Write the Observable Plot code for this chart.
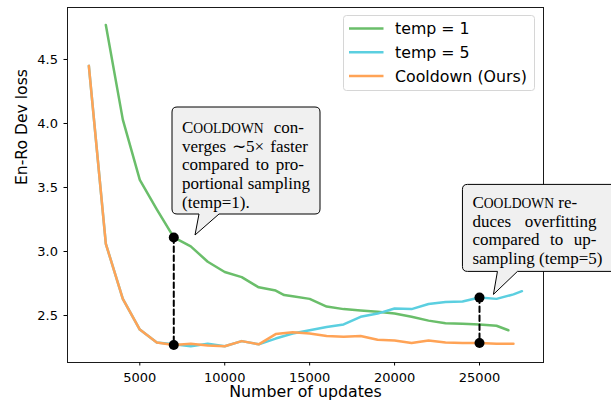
<!DOCTYPE html>
<html><head><meta charset="utf-8">
<script src="https://cdn.jsdelivr.net/npm/d3@7"></script>
<script src="https://cdn.jsdelivr.net/npm/@observablehq/plot@0.6"></script>
<style>body{margin:0;background:#fff}</style>
</head><body><div id="chart"></div><script>
// ---- data ----
const seriesNames = ["temp = 1", "temp = 5", "Cooldown (Ours)"];
const seriesColors = ["#6abe6a", "#5bcfe0", "#ffa356"];

const temp1X = [3000,4000,5000,6000,7000,8000,9000,10000,11000,12000,13000,13500,14000,15000,16000,17000,18000,19000,20000,21000,22000,23000,24000,25000,26000,26700];
const temp1Y = [4.77,4.03,3.56,3.33,3.11,3.04,2.92,2.84,2.80,2.72,2.695,2.66,2.65,2.63,2.57,2.55,2.54,2.53,2.515,2.49,2.46,2.44,2.435,2.43,2.42,2.385];

const temp5X = [2000,3000,4000,5000,6000,7000,8000,9000,10000,11000,12000,13000,14000,15000,16000,17000,18000,19000,20000,21000,22000,23000,24000,25000,26000,27000,27500];
const temp5Y = [4.45,3.06,2.63,2.39,2.29,2.275,2.26,2.28,2.26,2.30,2.275,2.32,2.36,2.385,2.41,2.43,2.49,2.515,2.555,2.55,2.59,2.605,2.61,2.64,2.63,2.665,2.69];

const coolX = [2000,3000,4000,5000,6000,7000,8000,9000,10000,11000,12000,13000,14000,15000,16000,17000,18000,19000,20000,21000,22000,23000,24000,25000,26000,27000];
const coolY = [4.45,3.06,2.63,2.39,2.29,2.27,2.28,2.265,2.26,2.30,2.275,2.355,2.37,2.36,2.34,2.335,2.34,2.31,2.305,2.285,2.305,2.29,2.285,2.285,2.28,2.28];

// comparison markers
const markX = [7000, 25000];
const markHigh = [3.11, 2.64];
const markLow = [2.27, 2.285];

const xTicks = [5000, 10000, 15000, 20000, 25000];
const yTicks = [2.5, 3.0, 3.5, 4.0, 4.5];
const xLabel = "Number of updates";
const yLabel = "En-Ro Dev loss";

// annotations: tip in data coords, text lines (first word small caps)
const noteTipX = [8280, 25850];
const noteTipY = [3.125, 2.661];
const noteLines = [
  [["Cooldown", " con-"], [null, "verges \u223C5\u00D7 faster"], [null, "compared to pro-"], [null, "portional sampling"], [null, "(temp=1)."]],
  [["Cooldown", " re-"], [null, "duces overfitting"], [null, "compared to up-"], [null, "sampling (temp=5)"]]
];

// ---- build table ----
const rows = [];
[[temp1X, temp1Y], [temp5X, temp5Y], [coolX, coolY]].forEach(([xs, ys], i) =>
  xs.forEach((x, j) => rows.push({series: seriesNames[i], x, y: ys[j]})));
const marks = markX.flatMap((x, i) => [{x, y: markHigh[i], g: i}, {x, y: markLow[i], g: i}]);

const chart = Plot.plot({
  width: 611, height: 405,
  marginLeft: 67, marginRight: 68, marginTop: 7, marginBottom: 43,
  style: {fontFamily: "DejaVu Sans", fontSize: "13px", color: "#000", background: "#fff", overflow: "hidden"},
  x: {domain: [743, 28768]},
  y: {domain: [2.133, 4.906]},
  color: {domain: seriesNames, range: seriesColors},
  marks: [
    Plot.lineY(rows, {x: "x", y: "y", stroke: "series", z: "series", strokeWidth: 2.5}),
    Plot.line(marks, {x: "x", y: "y", z: "g", stroke: "#000", strokeWidth: 2, strokeDasharray: "5.5,3.5"}),
    Plot.dot(marks, {x: "x", y: "y", r: 5, fill: "#000"}),
    Plot.frame({stroke: "#1a1a1a", strokeWidth: 1}),
    Plot.axisX({ticks: xTicks, tickSize: 3.5, tickPadding: 7, tickFormat: d3.format("d"), label: null, fontSize: 13}),
    Plot.axisY({ticks: yTicks, tickSize: 3.5, tickPadding: 6, tickFormat: d3.format(".1f"), label: null, fontSize: 13}),
    Plot.text([xLabel], {frameAnchor: "bottom", dy: 29, lineAnchor: "middle", fontSize: 15.8, text: d => d}),
    Plot.text([yLabel], {frameAnchor: "left", dx: -45.5, rotate: -90, fontSize: 15.6, text: d => d})
  ]
});
document.getElementById("chart").appendChild(chart);

// ---- legend & annotations via d3 on the Plot svg ----
const svg = d3.select(chart);
const sx = chart.scale("x"), sy = chart.scale("y");

const lg = svg.append("g").attr("text-anchor", "start");
lg.append("rect").attr("x", 343.5).attr("y", 15.5).attr("width", 191).attr("height", 75)
  .attr("rx", 3).attr("fill", "#fff").attr("fill-opacity", 0.8).attr("stroke", "#d6d6d6");
seriesNames.forEach((n, i) => {
  const yy = 28.5 + i * 23.8;
  lg.append("line").attr("x1", 349).attr("x2", 383.5).attr("y1", yy).attr("y2", yy)
    .attr("stroke", seriesColors[i]).attr("stroke-width", 2.5);
  lg.append("text").attr("x", 395).attr("y", yy + 5.8).attr("font-size", 15.8)
    .attr("text-anchor", "start").attr("font-family", "DejaVu Sans").attr("fill", "#000").text(n);
});

// box geometry relative to tip (pixels); justify = target text widths per line
const noteFont = 17;
const boxGeom = [
  {left: -23, top: -128, w: 148, h: 107, b0: 4, b1: 24, first: 26, lead: 18.7, justify: [122, 126, 122, null, null]},
  {left: -31, top: -110, w: 165, h: 87, b0: 4, b1: 24, first: 23.5, lead: 18.7, justify: [null, 124, 124, null]}
];
noteTipX.forEach((tx0, i) => {
  const tx = sx.apply(tx0), ty = sy.apply(noteTipY[i]);
  const g = boxGeom[i];
  const x0 = tx + g.left, y0 = ty + g.top, x1 = x0 + g.w, y1 = y0 + g.h, r = 5;
  const p = `M${x0 + r},${y0}H${x1 - r}Q${x1},${y0} ${x1},${y0 + r}V${y1 - r}Q${x1},${y1} ${x1 - r},${y1}` +
    `H${tx + g.b1}L${tx},${ty}L${tx + g.b0},${y1}H${x0 + r}Q${x0},${y1} ${x0},${y1 - r}V${y0 + r}Q${x0},${y0} ${x0 + r},${y0}Z`;
  const ag = svg.append("g").attr("text-anchor", "start");
  ag.append("path").attr("d", p).attr("fill", "#f0f0f0").attr("stroke", "#000").attr("stroke-width", 1);
  noteLines[i].forEach((ln, k) => {
    const t = ag.append("text").attr("x", x0 + 10).attr("y", y0 + g.first + k * g.lead).attr("text-anchor", "start")
      .attr("font-family", "Liberation Serif").attr("font-size", noteFont).attr("fill", "#000");
    if (ln[0]) {
      // TeX-like small caps: first letter full size, the rest as smaller capitals
      t.append("tspan").text(ln[0][0].toUpperCase());
      t.append("tspan").attr("font-size", noteFont * 0.8).text(ln[0].slice(1).toUpperCase());
    }
    t.append("tspan").text(ln[1]);
    const target = g.justify[k];
    if (target) {
      const len = t.node().getComputedTextLength();
      const spaces = ((ln[0] || "") + ln[1]).split(" ").length - 1;
      if (spaces > 0 && target > len) t.attr("word-spacing", (target - len) / spaces);
    }
  });
});
</script></body></html>
